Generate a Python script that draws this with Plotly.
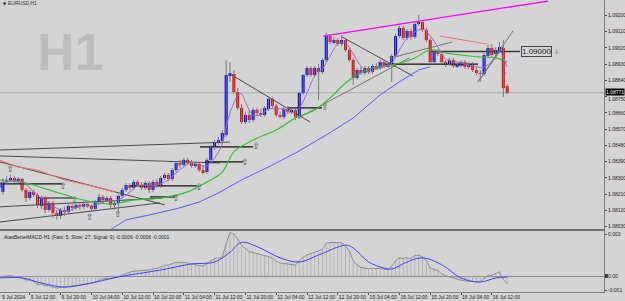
import plotly.graph_objects as go

# ---------------- data (hourly bars, index 0 = 9 Jul 04:00) ----------------
open_ = [1.08244,1.08222,1.08277,1.08288,1.08299,1.08283,1.08294,1.08233,1.08188,1.08222,
         1.08205,1.08144,1.08188,1.08122,1.08161,1.08105,1.08089,1.08122,1.08111,1.08144,
         1.08133,1.08150,1.08139,1.08155,1.08144,1.08128,1.08166,1.08194,1.08177,1.08188,
         1.08150,1.08161,1.08200,1.08233,1.08260,1.08244,1.08277,1.08260,1.08244,1.08271,
         1.08233,1.08277,1.08255,1.08299,1.08316,1.08294,1.08343,1.08382,1.08371,1.08399,
         1.08382,1.08366,1.08377,1.08343,1.08332,1.08399,1.08471,1.08498,1.08504,1.08537,
         1.08869,1.08875,1.08775,1.08687,1.08609,1.08648,1.08620,1.08676,1.08659,1.08648,
         1.08681,1.08737,1.08698,1.08648,1.08637,1.08681,1.08665,1.08676,1.08637,1.08770,
         1.08869,1.08908,1.08869,1.08908,1.08886,1.08952,1.09085,1.09052,1.09063,1.09041,
         1.09063,1.09008,1.08952,1.08853,1.08897,1.08880,1.08908,1.08886,1.08919,1.08908,
         1.08941,1.08919,1.08925,1.08975,1.09085,1.09130,1.09074,1.09113,1.09080,1.09152,
         1.09163,1.09119,1.09063,1.08941,1.09002,1.08986,1.08941,1.08930,1.08952,1.08919,
         1.08919,1.08941,1.08914,1.08930,1.08897,1.08880,1.08875,1.08975,1.09019,1.08986,
         1.09002,1.09019,1.08808]
high = [1.08266,1.08299,1.08310,1.08316,1.08310,1.08305,1.08299,1.08244,1.08233,1.08233,
        1.08216,1.08200,1.08200,1.08172,1.08172,1.08122,1.08133,1.08139,1.08161,1.08155,
        1.08166,1.08161,1.08172,1.08166,1.08155,1.08177,1.08211,1.08205,1.08200,1.08200,
        1.08177,1.08211,1.08244,1.08271,1.08271,1.08288,1.08288,1.08277,1.08283,1.08283,
        1.08288,1.08294,1.08310,1.08327,1.08327,1.08355,1.08393,1.08399,1.08410,1.08410,
        1.08399,1.08388,1.08388,1.08366,1.08410,1.08482,1.08509,1.08526,1.08565,1.08952,
        1.08941,1.08897,1.08797,1.08709,1.08665,1.08676,1.08687,1.08687,1.08681,1.08698,
        1.08753,1.08748,1.08709,1.08665,1.08692,1.08698,1.08687,1.08687,1.08775,1.08875,
        1.08919,1.08919,1.08919,1.08930,1.08964,1.09102,1.09096,1.09080,1.09074,1.09091,
        1.09074,1.09019,1.08964,1.08908,1.08914,1.08919,1.08919,1.08930,1.08936,1.08952,
        1.08952,1.08941,1.08986,1.09096,1.09141,1.09141,1.09124,1.09124,1.09163,1.09202,
        1.09174,1.09130,1.09074,1.09013,1.09013,1.08997,1.08952,1.08964,1.08964,1.08941,
        1.08952,1.08952,1.08941,1.08941,1.08914,1.08897,1.08991,1.09036,1.09041,1.09024,
        1.09052,1.09063,1.08820]
low = [1.08227,1.08205,1.08266,1.08277,1.08271,1.08271,1.08222,1.08166,1.08177,1.08194,
       1.08133,1.08128,1.08105,1.08111,1.08078,1.08067,1.08072,1.08089,1.08100,1.08116,
       1.08122,1.08122,1.08128,1.08133,1.08111,1.08116,1.08155,1.08161,1.08166,1.08133,
       1.08122,1.08111,1.08188,1.08222,1.08233,1.08233,1.08249,1.08233,1.08233,1.08216,
       1.08222,1.08244,1.08244,1.08288,1.08283,1.08283,1.08332,1.08355,1.08360,1.08371,
       1.08355,1.08355,1.08332,1.08321,1.08321,1.08388,1.08454,1.08482,1.08487,1.08526,
       1.08831,1.08764,1.08676,1.08598,1.08598,1.08604,1.08609,1.08642,1.08637,1.08637,
       1.08670,1.08687,1.08637,1.08626,1.08626,1.08653,1.08653,1.08620,1.08626,1.08759,
       1.08858,1.08858,1.08858,1.08731,1.08875,1.08941,1.09041,1.09041,1.09030,1.09030,
       1.08997,1.08941,1.08814,1.08842,1.08869,1.08869,1.08875,1.08875,1.08897,1.08897,
       1.08908,1.08908,1.08831,1.08964,1.09074,1.09063,1.09063,1.09063,1.09069,1.09141,
       1.09108,1.09052,1.08930,1.08930,1.08975,1.08930,1.08914,1.08919,1.08908,1.08908,
       1.08914,1.08903,1.08903,1.08886,1.08869,1.08831,1.08864,1.08964,1.08969,1.08975,
       1.08991,1.08748,1.08764]
close = [1.08260,1.08277,1.08288,1.08299,1.08283,1.08294,1.08233,1.08188,1.08222,1.08205,
         1.08150,1.08188,1.08122,1.08161,1.08105,1.08089,1.08122,1.08111,1.08144,1.08133,
         1.08150,1.08139,1.08155,1.08144,1.08128,1.08166,1.08194,1.08177,1.08188,1.08150,
         1.08161,1.08200,1.08233,1.08260,1.08244,1.08277,1.08260,1.08244,1.08271,1.08233,
         1.08277,1.08255,1.08299,1.08316,1.08294,1.08343,1.08382,1.08371,1.08399,1.08382,
         1.08366,1.08377,1.08343,1.08332,1.08399,1.08471,1.08498,1.08509,1.08548,1.08869,
         1.08880,1.08775,1.08687,1.08609,1.08648,1.08620,1.08676,1.08659,1.08648,1.08687,
         1.08737,1.08698,1.08648,1.08637,1.08681,1.08665,1.08676,1.08637,1.08770,1.08869,
         1.08908,1.08869,1.08908,1.08886,1.08952,1.09085,1.09052,1.09063,1.09041,1.09063,
         1.09008,1.08952,1.08853,1.08897,1.08880,1.08908,1.08886,1.08919,1.08908,1.08941,
         1.08919,1.08930,1.08975,1.09085,1.09130,1.09074,1.09113,1.09080,1.09152,1.09163,
         1.09119,1.09063,1.08941,1.09002,1.08986,1.08941,1.08925,1.08952,1.08919,1.08930,
         1.08941,1.08914,1.08930,1.08897,1.08880,1.08875,1.08980,1.09019,1.08980,1.09008,
         1.09024,1.08797,1.08770]

# x-axis tick labels (every 8 bars)
tick_bars = [0, 8, 16, 24, 32, 40, 48, 56, 64, 72, 80, 88, 96, 104, 112, 120, 128]
tick_text = ["9 Jul 2024", "9 Jul 12:00", "9 Jul 20:00", "10 Jul 04:00", "10 Jul 12:00",
             "10 Jul 20:00", "11 Jul 04:00", "11 Jul 12:00", "11 Jul 20:00", "12 Jul 04:00",
             "12 Jul 12:00", "12 Jul 20:00", "15 Jul 04:00", "15 Jul 12:00", "15 Jul 20:00",
             "16 Jul 04:00", "16 Jul 12:00"]
price_ticks = [1.09200, 1.09110, 1.09020, 1.08930, 1.08840, 1.08750, 1.08660,
               1.08570, 1.08480, 1.08390, 1.08300, 1.08210, 1.08120, 1.08030]
last_price = 1.08771
level_price = 1.09000

# moving averages
purple_bar = [0,2,4,6,8,10,12,14,16,18,20,22,24,26,28,30,32,34,36,38,40,42,44,46,48,50,52,54,56,58,
              59,60,61,62,63,64,66,68,70,72,74,76,78,80,82,84,86,88,90,92,94,96,98,100,102,104,
              106,108,110,112,114,116,118,120,122,124,126,128,130,131,132]
purple_val = [1.08271,1.08277,1.08283,1.08277,1.08244,1.08200,1.08177,1.08144,1.08122,1.08116,
              1.08133,1.08144,1.08144,1.08155,1.08172,1.08172,1.08188,1.08222,1.08255,1.08260,
              1.08255,1.08266,1.08288,1.08327,1.08360,1.08382,1.08371,1.08366,1.08410,1.08487,
              1.08581,1.08659,1.08714,1.08753,1.08764,1.08720,1.08648,1.08648,1.08681,1.08681,
              1.08681,1.08659,1.08687,1.08770,1.08864,1.08903,1.08975,1.09041,1.09047,1.08986,
              1.08919,1.08886,1.08903,1.08914,1.08936,1.09008,1.09074,1.09108,1.09124,1.09085,
              1.09024,1.08958,1.08947,1.08936,1.08925,1.08914,1.08914,1.08947,1.09002,1.08964,
              1.08914]
green_bar = [0,7,13,22,29,35,42,49,54,58,61,66,72,77,82,86,90,93,97,102,108,112,116,120,125,129,132]
green_val = [1.08288,1.08271,1.08233,1.08177,1.08155,1.08177,1.08188,1.08222,1.08277,1.08332,
             1.08443,1.08509,1.08565,1.08631,1.08676,1.08742,1.08825,1.08869,1.08908,1.08925,
             1.08964,1.09008,1.08991,1.08980,1.08969,1.08964,1.08941]
blue_bar = [28,33,39,46,52,57,63,70,77,85,92,99,104,109,112,None,125.5,126.6,None,130.6,131.7]
blue_val = [1.08000,1.08067,1.08094,1.08128,1.08166,1.08216,1.08288,1.08360,1.08437,1.08537,
            1.08631,1.08759,1.08831,1.08897,1.08914,None,1.08947,1.08947,None,1.08880,1.08880]
red_bar = [0,5,10,17,23,30]
red_val = [1.08399,1.08360,1.08343,1.08288,1.08260,1.08222]

# drawn objects: trend lines (bar0, price0, bar1, price1)
dark_lines = [(0.26,1.08454,60.0,1.08498),(0.26,1.08421,57.4,1.08382),(0.26,1.08388,43.1,1.08150),
              (0.26,1.08139,42.6,1.08188),(0.26,1.08055,41.8,1.08161),
              (60.5,1.08869,80.8,1.08609),(89.1,1.09080,107.5,1.08864)]
gray_lines = [(77.7,1.08631,106.5,1.08963),(101.6,1.08963,117.7,1.09052),
              (124.4,1.08831,133.5,1.09113),(124.4,1.08831,130.9,1.09024)]
level_lines = [(0.26,16.4,1.08266),(9.9,19.2,1.08188),(34.0,51.4,1.08255),(39.2,45.7,1.08194),
               (53.5,63.4,1.08388),(52.2,66.0,1.08471),(75.1,83.9,1.08687),(100.3,124.4,1.08930)]
red_line = (114.5,1.09085,126.8,1.09041)
magenta_line = (84.2,1.09085,142.6,1.09279)
level_span = (112.0,135.3)
arrow_bar = [2.9,16.6,19.7,23.6,30.9,46.0,52.0,63.9,66.8,84.7]
arrow_val = [1.08343,1.08249,1.08172,1.08078,1.08094,1.08183,1.08244,1.08382,1.08471,1.08687]

# MACD (per bar) and signal
macd = [-0.00005,-0.00003,0.00000,0.00002,-0.00003,-0.00005,-0.00015,-0.00028,-0.00030,-0.00040,
        -0.00060,-0.00058,-0.00070,-0.00068,-0.00080,-0.00086,-0.00082,-0.00080,-0.00075,-0.00072,
        -0.00068,-0.00065,-0.00060,-0.00056,-0.00052,-0.00042,-0.00030,-0.00022,-0.00015,-0.00018,
        -0.00012,-0.00005,0.00008,0.00020,0.00028,0.00035,0.00038,0.00040,0.00045,0.00043,
        0.00052,0.00055,0.00065,0.00075,0.00078,0.00088,0.00098,0.00095,0.00098,0.00092,
        0.00085,0.00082,0.00075,0.00072,0.00090,0.00112,0.00125,0.00128,0.00135,0.00230,
        0.00310,0.00300,0.00265,0.00220,0.00195,0.00175,0.00168,0.00160,0.00150,0.00145,
        0.00140,0.00128,0.00105,0.00092,0.00090,0.00085,0.00082,0.00078,0.00110,0.00135,
        0.00150,0.00160,0.00170,0.00175,0.00190,0.00235,0.00240,0.00240,0.00238,0.00238,
        0.00215,0.00180,0.00110,0.00080,0.00062,0.00058,0.00052,0.00055,0.00052,0.00057,
        0.00048,0.00043,0.00070,0.00110,0.00130,0.00125,0.00130,0.00125,0.00145,0.00150,
        0.00135,0.00110,0.00057,0.00050,0.00038,0.00015,0.00002,-0.00005,-0.00015,-0.00025,
        -0.00030,-0.00035,-0.00038,-0.00042,-0.00045,-0.00043,-0.00020,0.00005,0.00005,0.00020,
        0.00030,-0.00025,-0.00057]
signal_bar = [0,6,11,17,24,31,42,50,56,60,63,67,73,78,83,90,92,96,100,102,106,110,115,120,125,129,132]
signal_val = [-0.00014,-0.00014,-0.00050,-0.00079,-0.00050,-0.00007,0.00043,0.00086,0.00100,0.00170,
              0.00240,0.00210,0.00130,0.00100,0.00150,0.00220,0.00200,0.00100,0.00057,0.00050,
              0.00100,0.00130,0.00080,-0.00014,-0.00043,-0.00014,-0.00007]
macd_title = "AtasBetterMACD-H1 (Fast: 5, Slow: 27, Signal: 9) -0.0006 -0.0006 -0.0001"
macd_ticks = [0.003, 0.0, -0.001]
macd_tick_text = ["0.003", "0.00", "-0.001"]

# ---------------- figure ----------------
BG = "#d4d4d4"
FONT = "Liberation Sans, Arial, sans-serif"
bars = list(range(len(close)))
fig = go.Figure()

def seg(x0, y0, x1, y1, color, width, yaxis="y"):
    fig.add_trace(go.Scatter(x=[x0, x1], y=[y0, y1], mode="lines", yaxis=yaxis,
                             line=dict(color=color, width=width),
                             hoverinfo="skip", showlegend=False))

# trend lines behind candles
for (a, p, b, q) in dark_lines:
    seg(a, p, b, q, "#3a3a3a", 0.9)
for (a, p, b, q) in gray_lines:
    seg(a, p, b, q, "#6a6a6a", 0.9)
for (a, b, p) in level_lines:
    seg(a, p, b, p, "#111111", 1.2)
seg(*red_line, "#f07070", 1)
seg(*magenta_line, "#ff00ff", 1.3)
seg(level_span[0], level_price, level_span[1], level_price, "#3a3a3a", 1.5)

# moving averages
fig.add_trace(go.Scatter(x=red_bar, y=red_val, mode="lines", line=dict(color="#ff6a6a", width=1),
                         hoverinfo="skip", showlegend=False))
fig.add_trace(go.Scatter(x=blue_bar, y=blue_val, mode="lines", line=dict(color="#5a5aff", width=1),
                         connectgaps=False, hoverinfo="skip", showlegend=False))
fig.add_trace(go.Scatter(x=green_bar, y=green_val, mode="lines", line=dict(color="#2ec02e", width=1.1),
                         line_shape="spline", hoverinfo="skip", showlegend=False))
fig.add_trace(go.Scatter(x=purple_bar, y=purple_val, mode="lines", line=dict(color="#9a6ad0", width=1),
                         line_shape="spline", hoverinfo="skip", showlegend=False))

# candle wicks
wx, wy = [], []
for i in bars:
    wx += [i, i, None]
    wy += [low[i], high[i], None]
fig.add_trace(go.Scatter(x=wx, y=wy, mode="lines", line=dict(color="#7a7a7a", width=1),
                         hoverinfo="skip", showlegend=False))
# candle bodies
body_base = [min(o, c) for o, c in zip(open_, close)]
body_h = [max(abs(c - o), 0.00004) for o, c in zip(open_, close)]
body_col = ["#0000ff" if c >= o else "#ff0000" for o, c in zip(open_, close)]
fig.add_trace(go.Bar(x=bars, y=body_h, base=body_base, width=0.78,
                     marker=dict(color=body_col, line=dict(width=0)),
                     hoverinfo="skip", showlegend=False))

# arrows
fig.add_trace(go.Scatter(x=arrow_bar, y=arrow_val, mode="text", text=["⇧"] * len(arrow_bar),
                         textfont=dict(size=9, color="#4a4a4a", family="DejaVu Sans"),
                         hoverinfo="skip", showlegend=False))

# MACD sub window
hx, hy = [], []
for i in bars:
    hx += [i, i, None]
    hy += [0, macd[i], None]
fig.add_trace(go.Scatter(x=hx, y=hy, mode="lines", yaxis="y2", xaxis="x2",
                         line=dict(color="#ababab", width=0.8), hoverinfo="skip", showlegend=False))
fig.add_trace(go.Scatter(x=bars, y=macd, mode="lines", yaxis="y2", xaxis="x2",
                         line=dict(color="#8e8e8e", width=1), hoverinfo="skip", showlegend=False))
fig.add_trace(go.Scatter(x=signal_bar, y=signal_val, mode="lines", yaxis="y2", xaxis="x2",
                         line=dict(color="#4040ff", width=1), line_shape="spline",
                         hoverinfo="skip", showlegend=False))

XR = [0.26, 157.14]
TF = dict(size=5, family=FONT, color="#1a1a1a")
price_text = [("" if p == 1.08750 else f"{p:.5f}") for p in price_ticks]
fig.update_layout(
    width=625, height=301, margin=dict(l=0, r=21, t=0, b=9, autoexpand=False),
    paper_bgcolor=BG, plot_bgcolor=BG, barmode="overlay", showlegend=False,
    font=dict(family=FONT, size=5, color="#1a1a1a"),
    xaxis=dict(range=XR, showgrid=False, zeroline=False, showticklabels=False, ticks="",
               showline=True, linecolor="#6e6e6e", linewidth=2, anchor="y", automargin=False),
    yaxis=dict(domain=[0.2158, 1], range=[1.080165, 1.092847], side="right", showgrid=False,
               zeroline=False, tickvals=price_ticks, ticktext=price_text,
               ticks="outside", ticklen=2, tickcolor="#505050", showline=True, automargin=False,
               linecolor="#808080", linewidth=1, tickfont=TF),
    xaxis2=dict(range=XR, matches="x", anchor="y2", showgrid=False, zeroline=False,
                tickvals=tick_bars, ticktext=tick_text, ticks="outside", ticklen=2, tickangle=0,
                tickcolor="#505050", ticklabelposition="outside right", showline=True,
                automargin=False, linecolor="#808080", linewidth=1, tickfont=TF),
    yaxis2=dict(domain=[0, 0.2089], range=[-0.001143, 0.003214], side="right", anchor="x2",
                showgrid=False, zeroline=True, zerolinecolor="#8a8a8a", zerolinewidth=1,
                tickvals=macd_ticks, ticktext=macd_tick_text, ticks="outside", ticklen=2,
                tickcolor="#505050", showline=True, linecolor="#808080", linewidth=1,
                automargin=False, tickfont=TF),
)

# current price line
fig.add_shape(type="line", xref="paper", x0=0, x1=1, yref="y", y0=last_price, y1=last_price,
              line=dict(color="#ababab", width=1), layer="below")
# small value marker on the MACD zero level
fig.add_shape(type="rect", xref="paper", x0=1.0015, x1=1.0065, yref="y2", y0=-0.00014, y1=0.00014,
              fillcolor="#3a3a3a", line=dict(width=0))

ann = []
ann.append(dict(text="<b>H1</b>", xref="paper", yref="paper", x=70/604, y=1-52/292,
                xanchor="center", yanchor="middle",
                showarrow=False, font=dict(size=52, color="#bcbcbc", family=FONT)))
ann.append(dict(text="▼", xref="paper", yref="paper", x=0.5/604, y=1-3.5/292, xanchor="left",
                yanchor="middle", showarrow=False,
                font=dict(size=4, color="#111111", family="DejaVu Sans")))
ann.append(dict(text="EURUSD,H1", xref="paper", yref="paper", x=6/604, y=1-3.5/292,
                xanchor="left", yanchor="middle", showarrow=False,
                font=dict(size=5, color="#333333", family=FONT)))
ann.append(dict(text=macd_title, xref="paper", yref="paper", x=2/604, y=1-237/292,
                xanchor="left", yanchor="middle", showarrow=False,
                font=dict(size=5, color="#222222", family=FONT)))
ann.append(dict(text=tick_text[0], xref="paper", yref="paper", x=0, y=-5/292,
                xanchor="left", yanchor="middle", xshift=0, showarrow=False, font=TF))
ann.append(dict(text=f"{1.08750:.5f}", xref="paper", yref="y", x=1, y=1.08750,
                xanchor="left", yanchor="middle", xshift=2, yshift=-2, showarrow=False, font=TF))
ann.append(dict(text=f"{last_price:.5f}", xref="paper", yref="y", x=1, y=last_price,
                xanchor="left", yanchor="middle", xshift=1, yshift=1, showarrow=False,
                bgcolor="#000000", borderpad=0,
                font=dict(size=5, color="#ffffff", family=FONT)))
ann.append(dict(text=f"{level_price:.5f}", xref="x", yref="y", x=level_span[1] + 0.4, y=level_price,
                xanchor="left", yanchor="middle", showarrow=False, bgcolor=BG,
                bordercolor="#444444", borderwidth=1, borderpad=0,
                font=dict(size=8, color="#222222", family=FONT)))
ann.append(dict(text="⇩", xref="x", yref="y", x=level_span[1] + 8.3, y=level_price,
                xanchor="left", yanchor="middle", showarrow=False,
                font=dict(size=6, color="#444444", family="DejaVu Sans")))
fig.update_layout(annotations=ann)

fig.write_html("out.html")
